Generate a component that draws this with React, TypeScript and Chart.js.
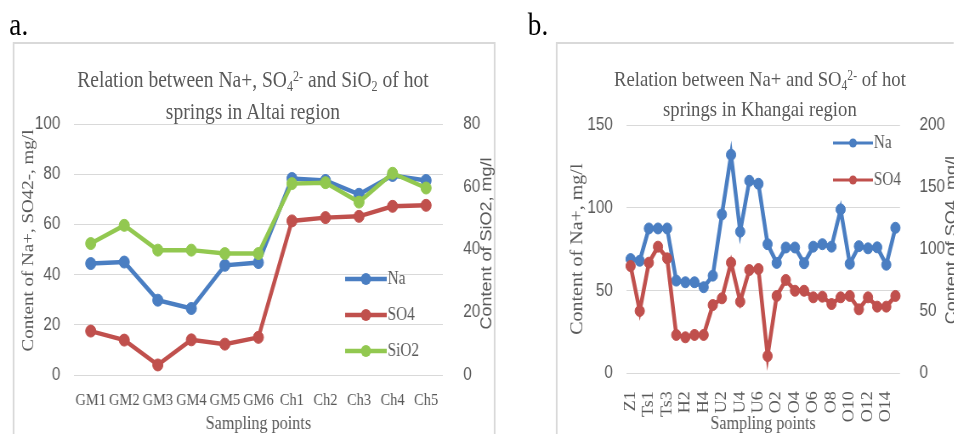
import React, { useEffect, useRef } from 'react';
import { Chart, registerables } from 'chart.js';
Chart.register(...registerables);

// ---------- data ----------
const categoriesA = ['GM1', 'GM2', 'GM3', 'GM4', 'GM5', 'GM6', 'Ch1', 'Ch2', 'Ch3', 'Ch4', 'Ch5'];
const naA = [44.4, 45, 29.8, 26.5, 43.7, 44.8, 78.3, 77.5, 72, 79.5, 77.5];
const so4A = [17.5, 13.9, 4, 14, 12.3, 15, 61.4, 62.7, 63.2, 67.2, 67.6];
const sio2A = [41.9, 47.7, 39.8, 39.8, 38.7, 38.7, 61, 61.3, 55.1, 64.3, 59.6];
const leftTicksA = [0, 20, 40, 60, 80, 100];
const rightTicksA = [0, 20, 40, 60, 80];

const categoriesB = [
  'Z1', 'Z2', 'Ts1', 'Ts2', 'Ts3', 'H1', 'H2', 'H3', 'H4',
  'U1', 'U2', 'U3', 'U4', 'U5', 'U6',
  'O1', 'O2', 'O3', 'O4', 'O5', 'O6', 'O7', 'O8', 'O9', 'O10', 'O11', 'O12', 'O13', 'O14', 'O15',
];
const naB = [69, 68, 87.5, 87.5, 87.5, 56, 55, 55, 52, 59, 96, 132, 85.6, 116.3, 114.5, 78, 66.7, 76, 76, 66.5, 76.5, 78, 76.5, 99, 66.2, 76.8, 75.5, 76.1, 65.6, 87.9];
const so4B = [86.4, 50.2, 89.1, 102, 92.6, 30.9, 29, 30.9, 30.9, 55, 60.4, 89.1, 57.7, 83.2, 84, 13.9, 62.3, 75.2, 66.5, 66.5, 61.2, 61.7, 55.8, 61.2, 62.3, 51.5, 61.2, 53.7, 53.7, 62.3];
const leftTicksB = [0, 50, 100, 150];
const rightTicksB = [0, 50, 100, 150, 200];

// ---------- styles ----------
const SX = 0.85;
const SERIF = "'Liberation Serif', 'Times New Roman', serif";
const SANS = "'Liberation Sans', Arial, sans-serif";
const GRAY = '#595959';
const GRID = '#d9d9d9';
const BLUE = '#4A7EC2';
const RED = '#C0504D';
const GREEN = '#92C850';

const overlayLegend = {
  id: 'overlayLegend',
  afterDraw(chart: any, _args: any, opts: any) {
    const ctx = chart.ctx;
    ctx.save();
    chart.data.datasets.forEach((ds: any, i: number) => {
      const y = opts.y + i * opts.gap;
      ctx.strokeStyle = ds.borderColor;
      ctx.lineWidth = opts.lineWidth;
      ctx.beginPath();
      ctx.moveTo(opts.x, y);
      ctx.lineTo(opts.x + opts.len, y);
      ctx.stroke();
      ctx.fillStyle = ds.borderColor;
      ctx.beginPath();
      ctx.arc(opts.x + opts.len / 2, y, opts.r, 0, Math.PI * 2);
      ctx.fill();
      ctx.fillStyle = opts.color;
      ctx.font = opts.font;
      ctx.textBaseline = 'middle';
      ctx.textAlign = 'left';
      ctx.fillText(ds.label, opts.x + opts.len + 1, y);
    });
    ctx.restore();
  },
};

// vertical axis titles, reading bottom-to-top on both sides
const sideTitles = {
  id: 'sideTitles',
  afterDraw(chart: any, _args: any, opts: any) {
    const ctx = chart.ctx;
    const ca = chart.chartArea;
    (opts.items || []).forEach((it: any) => {
      ctx.save();
      ctx.translate(it.x, (ca.top + ca.bottom) / 2 + (it.dy || 0));
      ctx.rotate(-Math.PI / 2);
      ctx.font = it.font;
      ctx.fillStyle = GRAY;
      ctx.textAlign = 'center';
      ctx.textBaseline = 'middle';
      ctx.fillText(it.text, 0, 0);
      ctx.restore();
    });
  },
};

function series(label: string, data: number[], color: string, axis: string, width: number, radius: number, order: number) {
  return {
    label,
    data,
    yAxisID: axis,
    borderColor: color,
    backgroundColor: color,
    pointBackgroundColor: color,
    pointBorderColor: color,
    pointBorderWidth: 1,
    borderWidth: width,
    pointRadius: radius,
    tension: 0,
    order,
  };
}

const configA: any = {
  type: 'line',
  data: {
    labels: categoriesA,
    datasets: [
      series('Na', naA, BLUE, 'y', 4.5, 6, 2),
      series('SO4', so4A, RED, 'y', 4.5, 6, 1),
      series('SiO2', sio2A, GREEN, 'y1', 4.5, 6, 0),
    ],
  },
  options: {
    responsive: false,
    animation: false,
    layout: { padding: { top: 81, left: 0, right: 0, bottom: 0 } },
    plugins: {
      legend: { display: false },
      tooltip: { enabled: false },
      overlayLegend: { x: 390, y: 236, gap: 36, len: 49, lineWidth: 4.5, r: 6, font: `18px ${SERIF}`, color: GRAY },
      sideTitles: {
        items: [
          { text: 'Content of Na+, SO42-, mg/l', x: 18, dy: -9, font: `19px ${SERIF}` },
          { text: 'Content of SiO2, mg/l', x: 557, dy: -6, font: `18px ${SANS}` },
        ],
      },
    },
    scales: {
      x: {
        offset: true,
        grid: { display: false },
        border: { display: false },
        ticks: { color: GRAY, font: { family: SERIF, size: 17 }, padding: 7, autoSkip: false, maxRotation: 0 },
        title: { display: true, text: 'Sampling points', color: GRAY, font: { family: SERIF, size: 19 }, padding: { top: 0, bottom: 0 } },
        afterFit: (s: any) => { s.height = 60; },
      },
      y: {
        position: 'left',
        min: leftTicksA[0],
        max: leftTicksA[leftTicksA.length - 1],
        ticks: { stepSize: leftTicksA[1] - leftTicksA[0], color: GRAY, font: { family: SANS, size: 18 }, padding: 16 },
        grid: { color: GRID, lineWidth: 1, drawTicks: false },
        border: { display: false },
        afterFit: (s: any) => { s.width = 71; },
      },
      y1: {
        position: 'right',
        min: rightTicksA[0],
        max: rightTicksA[rightTicksA.length - 1],
        ticks: { stepSize: rightTicksA[1] - rightTicksA[0], color: GRAY, font: { family: SANS, size: 18 }, padding: 16 },
        grid: { display: false },
        border: { display: false },
        afterFit: (s: any) => { s.width = 62; },
      },
    },
  },
  plugins: [overlayLegend, sideTitles],
};

const configB: any = {
  type: 'line',
  data: {
    labels: categoriesB,
    datasets: [
      series('Na', naB, BLUE, 'y', 4.5, 5.5, 1),
      series('SO4', so4B, RED, 'y1', 4.5, 5.5, 0),
    ],
  },
  options: {
    responsive: false,
    animation: false,
    layout: { padding: { top: 82, left: 0, right: 0, bottom: 0 } },
    plugins: {
      legend: { display: false },
      tooltip: { enabled: false },
      overlayLegend: { x: 325, y: 100, gap: 37, len: 47, lineWidth: 3, r: 4.5, font: `18px ${SERIF}`, color: GRAY },
      sideTitles: {
        items: [
          { text: 'Content of Na+, mg/l', x: 25, dy: 0, font: `20px ${SERIF}` },
          { text: 'Content of SO4, mg/l', x: 465, dy: -9, font: `18px ${SANS}` },
        ],
      },
    },
    scales: {
      x: {
        offset: true,
        grid: { display: false },
        border: { display: false },
        ticks: {
          color: GRAY,
          font: { family: SERIF, size: 18 },
          padding: 10,
          autoSkip: false,
          minRotation: 90,
          maxRotation: 90,
          callback: (_v: any, i: number) => (i % 2 === 0 ? categoriesB[i] : ''),
        },
        title: { display: true, text: 'Sampling points', color: GRAY, font: { family: SERIF, size: 19 }, padding: { top: 0, bottom: 0 } },
        afterFit: (s: any) => { s.height = 61.7; },
      },
      y: {
        position: 'left',
        min: leftTicksB[0],
        max: leftTicksB[leftTicksB.length - 1],
        ticks: { stepSize: leftTicksB[1] - leftTicksB[0], color: GRAY, font: { family: SANS, size: 18 }, padding: 15.5 },
        grid: { color: GRID, lineWidth: 1, drawTicks: false },
        border: { display: false },
        afterFit: (s: any) => { s.width = 81.5; },
      },
      y1: {
        position: 'right',
        min: rightTicksB[0],
        max: rightTicksB[rightTicksB.length - 1],
        ticks: { stepSize: rightTicksB[1] - rightTicksB[0], color: GRAY, font: { family: SANS, size: 18 }, padding: 15 },
        grid: { display: false },
        border: { display: false },
        afterFit: (s: any) => { s.width = 76.2; },
      },
    },
  },
  plugins: [overlayLegend, sideTitles],
};

function ChartCanvas({ config, left, top, width, height }: any) {
  const ref = useRef<HTMLCanvasElement>(null);
  useEffect(() => {
    if (!ref.current) return;
    const chart = new Chart(ref.current, config);
    return () => chart.destroy();
  }, [config]);
  return (
    <canvas
      ref={ref}
      width={width}
      height={height}
      style={{ position: 'absolute', left, top, width, height }}
    />
  );
}

const subStyle: React.CSSProperties = { fontSize: '0.62em', position: 'relative', top: '0.3em' };
const supStyle: React.CSSProperties = { fontSize: '0.62em', position: 'relative', top: '-0.45em' };

export default function App() {
  const titleBase: React.CSSProperties = {
    position: 'absolute',
    width: 600,
    textAlign: 'center',
    fontFamily: SERIF,
    fontSize: 23,
    lineHeight: '29px',
    color: GRAY,
    whiteSpace: 'nowrap',
  };
  return (
    <div style={{ position: 'absolute', left: 0, top: 0, width: 954, height: 434, overflow: 'hidden', background: '#fff' }}>
      <div
        style={{
          position: 'absolute',
          left: 0,
          top: 0,
          width: 954 / SX,
          height: 434,
          overflow: 'hidden',
          transform: `scaleX(${SX})`,
          transformOrigin: '0 0',
        }}
      >
        <div style={{ position: 'absolute', left: 11, top: 8, fontFamily: SERIF, fontSize: 32, lineHeight: '32px', color: '#000' }}>a.</div>
        <div style={{ position: 'absolute', left: 621, top: 8, fontFamily: SERIF, fontSize: 32, lineHeight: '32px', color: '#000' }}>b.</div>

        <div style={{ position: 'absolute', left: 15, top: 42, width: 568, height: 420, border: `2px solid ${GRID}`, boxSizing: 'border-box' }} />
        <div style={{ position: 'absolute', left: 654, top: 42, width: 520, height: 420, border: `2px solid ${GRID}`, boxSizing: 'border-box' }} />

        <ChartCanvas config={configA} left={16} top={43} width={567} height={392} />
        <ChartCanvas config={configB} left={655} top={43} width={480} height={392} />

        <div style={{ ...titleBase, left: 297.6 - 300, top: 65 }}>
          Relation between Na+, SO<span style={subStyle}>4</span><span style={supStyle}>2-</span> and SiO<span style={subStyle}>2</span> of hot
          <br />
          springs in Altai region
        </div>
        <div style={{ ...titleBase, left: 894 - 300, top: 65, fontSize: 22, lineHeight: '27px' }}>
          Relation between Na+ and SO<span style={subStyle}>4</span><span style={supStyle}>2-</span> of hot
          <br />
          springs in Khangai region
        </div>
      </div>
    </div>
  );
}
